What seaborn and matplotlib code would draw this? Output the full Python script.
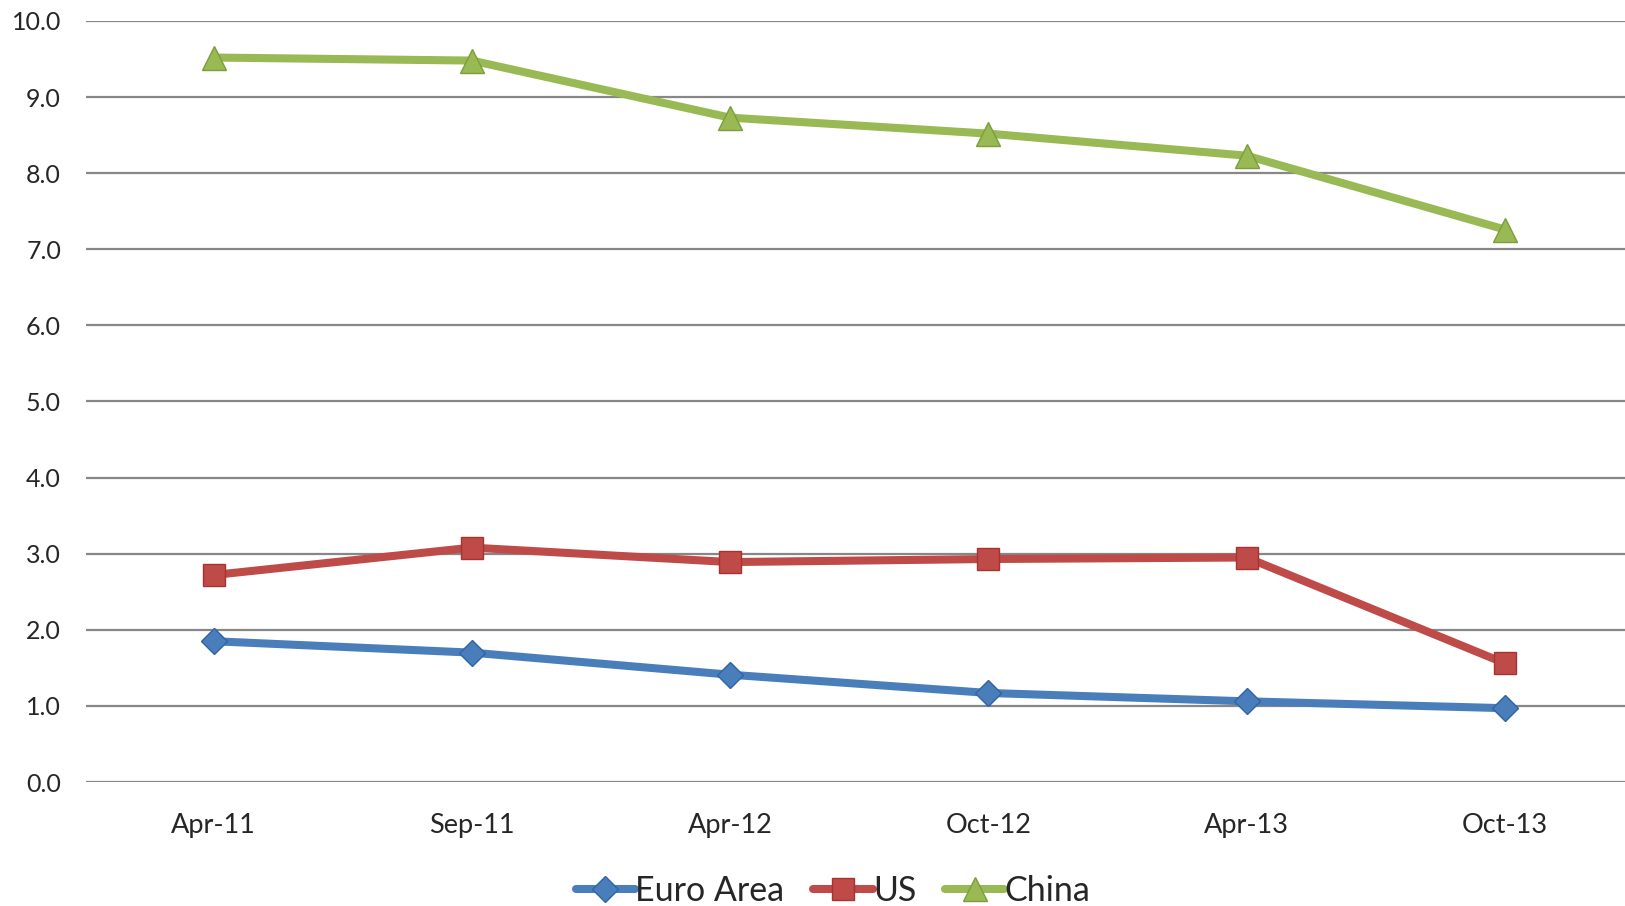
#!/usr/bin/env python3
## line chart: three series over six survey dates

import matplotlib
matplotlib.use("Agg")
import matplotlib.pyplot as plt
import seaborn as sb
import pandas as pd

dates = ["Apr-11", "Sep-11", "Apr-12", "Oct-12", "Apr-13", "Oct-13"]
euro_area = [1.85, 1.70, 1.41, 1.17, 1.06, 0.97]
us = [2.72, 3.08, 2.89, 2.93, 2.95, 1.56]
china = [9.52, 9.48, 8.73, 8.52, 8.23, 7.26]

series = {"Euro Area": euro_area, "US": us, "China": china}
colors = {"Euro Area": "#4A7EBB", "US": "#BE4B48", "China": "#98B954"}
edges = {"Euro Area": "#2F64A8", "US": "#A9322F", "China": "#7C9E3A"}
markers = {"Euro Area": "D", "US": "s", "China": "^"}
msizes = {"Euro Area": 13, "US": 16, "China": 17}

rows = []
for name, vals in series.items():
    for i, v in enumerate(vals):
        rows.append({"pos": i, "value": v, "series": name})
df = pd.DataFrame(rows)

sb.set_style("white")
plt.rcParams["font.family"] = ["Lato", "DejaVu Sans"]

fig = plt.figure(figsize=(16.25, 9.06), dpi=100)
ax = fig.add_axes([86 / 1625, 124 / 906, 1 - 86 / 1625, 761 / 906])

for name in series:
    sb.lineplot(data=df[df["series"] == name], x="pos", y="value", ax=ax,
                color=colors[name], linewidth=5.8, marker=markers[name],
                markersize=msizes[name], markerfacecolor=colors[name],
                markeredgecolor=edges[name], markeredgewidth=1,
                label=name, zorder=3)

ax.set_xlim(-0.494, 5.465)
ax.set_ylim(0, 10)
ax.set_yticks([i for i in range(11)])
ax.set_yticklabels(["%.1f" % i for i in range(11)], fontsize=18)
ax.set_xticks(range(len(dates)))
ax.set_xticklabels(dates, fontsize=19.5)
ax.tick_params(axis="y", length=0, pad=18)
ax.tick_params(axis="x", length=0, pad=22)
ax.set_xlabel("")
ax.set_ylabel("")
ax.grid(axis="y", color="#878787", linewidth=1.6)
ax.grid(axis="x", visible=False)
ax.set_axisbelow(True)
for s in ax.spines.values():
    s.set_visible(False)

handles, labels = ax.get_legend_handles_labels()
ax.legend(handles, labels, loc="center", bbox_to_anchor=(833 / 1625, 15 / 906),
          bbox_transform=fig.transFigure, ncol=3, frameon=False, fontsize=24.5,
          handlelength=1.75, handletextpad=0.0, columnspacing=0.85,
          borderaxespad=0)

fig.savefig("out.png", dpi=100)
plt.close(fig)
